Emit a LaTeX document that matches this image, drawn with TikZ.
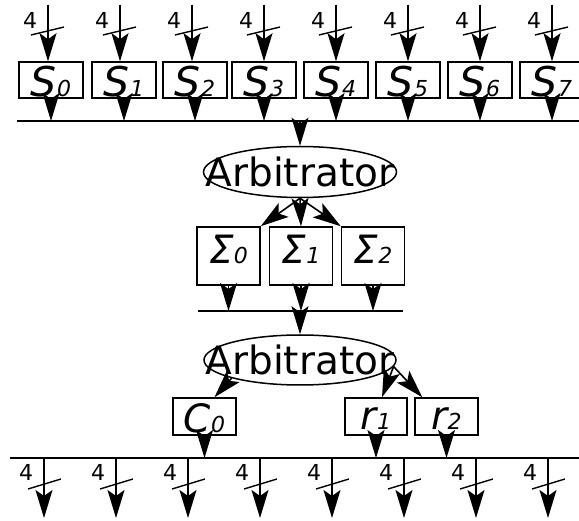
\documentclass[tikz,border=0pt]{standalone}
\usepackage{fontspec}
\setmainfont{DejaVu Sans}
\usetikzlibrary{arrows.meta,shapes.geometric}
\newcommand\ssub[1]{{\fontsize{22}{22}\selectfont #1}}
\tikzset{
  conn/.style={line width=1.6pt, -{Stealth[length=28pt,width=17pt,inset=6pt]}},
  busline/.style={line width=1.7pt},
  tickline/.style={line width=1.4pt},
  bx/.style={draw, line width=1.5pt, inner sep=0pt},
  sbox/.style={bx, minimum width=64pt, minimum height=36pt},
  gbox/.style={bx, minimum width=63pt, minimum height=58pt},
  cbox/.style={bx, minimum width=63pt, minimum height=37pt},
  arb/.style={draw, ellipse, line width=1.5pt, inner sep=0pt},
  bigtext/.style={inner sep=0pt, font=\fontsize{41}{41}\selectfont\itshape},
  midtext/.style={inner sep=0pt, font=\fontsize{39}{39}\selectfont\itshape},
  arbtext/.style={inner sep=0pt, font=\fontsize{39}{39}\selectfont},
  numtext/.style={inner sep=0pt, font=\fontsize{22}{22}\selectfont},
}
\begin{document}
\begin{tikzpicture}[x=1pt,y=-1pt]
\useasboundingbox (0,0) rectangle (579,521);

% top inputs and S boxes
\coordinate (b1w) at (17,121);
\coordinate (b1e) at (579,121);
\draw[busline] (b1w) -- (b1e);
\foreach \i/\xa/\xb in {0/48/51,1/120/124,2/192/195,3/264/264,4/336/336,5/408/408,6/480/480,7/552/552}{
  \coordinate (in\i) at (\xa,5);
  \node[sbox, label={[bigtext,yshift=-2pt]center:S\ssub{\i}}] (s\i) at (\xb,80) {};
  \draw[conn] (in\i) -- (in\i |- s\i.north);
  \draw[tickline] ([shift={(-17,30)}]in\i) -- ([shift={(16,22)}]in\i);
  \node[numtext] (n\i) at ([shift={(-18,15)}]in\i) {4};
  \draw[conn] (s\i.south) -- (s\i.south |- b1w);
}

% first arbitrator
\node[arb, minimum width=193pt, minimum height=51pt,
      label={[arbtext]center:Arbitrator}] (a1) at (300,172) {};
\draw[conn] (a1.north |- b1w) -- (a1.north);

% Sigma boxes
\node[gbox, label={[midtext,yshift=7pt]center:Σ\ssub{0}}] (g0) at (228.5,256) {};
\node[gbox, label={[midtext,yshift=7pt]center:Σ\ssub{1}}] (g1) at (301,256) {};
\node[gbox, label={[midtext,yshift=7pt]center:Σ\ssub{2}}] (g2) at (373,256) {};
\draw[conn] (a1.south) -- (g0.north east);
\draw[conn] (a1.south) -- (g1.north);
\draw[conn] (a1.south) -- (g2.north west);

\coordinate (b2w) at (198,311);
\coordinate (b2e) at (403,311);
\draw[busline] (b2w) -- (b2e);
\foreach \g in {g0,g1,g2}{
  \draw[conn] (\g.south) -- (\g.south |- b2w);
}

% second arbitrator
\node[arb, minimum width=192pt, minimum height=50pt,
      label={[arbtext]center:Arbitrator}] (a2) at (300,360) {};
\draw[conn] (a2.north |- b2w) -- (a2.north);

% C and r boxes
\node[cbox, label={[midtext,yshift=-2pt]center:C\ssub{0}}] (c0) at (204.5,416.5) {};
\node[cbox, minimum width=62pt, label={[midtext,yshift=-2pt]center:r\ssub{1}}] (r1) at (376,416.5) {};
\node[cbox, label={[midtext,yshift=-2pt]center:r\ssub{2}}] (r2) at (446.5,416.5) {};
\draw[conn] (a2.south west) -- ([xshift=10pt]c0.north);
\draw[conn] (a2.-4) -- ([xshift=6pt]r1.north);
\draw[conn] (a2.-4) -- ([xshift=8pt]r2.north west);

% bottom bus and outputs
\coordinate (b3w) at (10,458);
\coordinate (b3e) at (579,458);
\draw[busline] (b3w) -- (b3e);
\foreach \b in {c0,r1,r2}{
  \draw[conn] (\b.south) -- (\b.south |- b3w);
}
\foreach \i/\xa in {0/44,1/116,2/188,3/260,4/332,5/404,6/476,7/548}{
  \coordinate (out\i) at (\xa,518);
  \draw[conn] (out\i |- b3w) -- (out\i);
  \draw[tickline] ([shift={(-16,-29)}]out\i) -- ([shift={(17,-39)}]out\i);
  \node[numtext] (m\i) at ([shift={(-18,-46)}]out\i) {4};
}
\end{tikzpicture}
\end{document}
